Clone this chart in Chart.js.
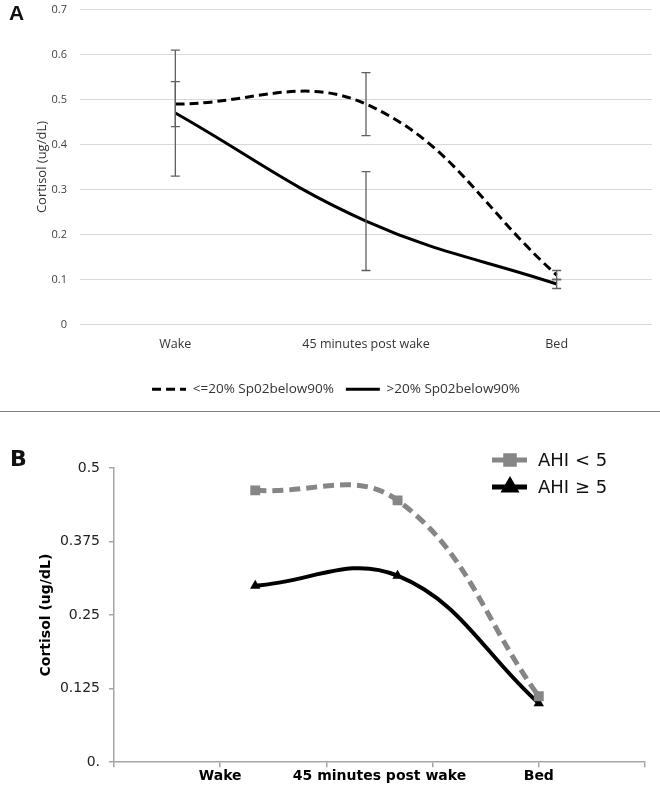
<!DOCTYPE html>
<html>
<head>
<meta charset="utf-8">
<script src="https://cdn.jsdelivr.net/npm/chart.js@4"></script>
<style>
  body { margin: 0; background: #fff; }
  #wrap { position: relative; width: 660px; height: 785px; overflow: hidden; }
  .panel { position: absolute; left: 0; }
  .tag { position: absolute; font-weight: bold; color: #111; }
  #sep { position: absolute; left: 0; top: 411px; width: 660px; height: 1px; background: #7f7f7f; }
</style>
</head>
<body>
<div id="wrap">
  <canvas id="chartA" class="panel" style="top:0" width="660" height="407"></canvas>
  <div id="sep"></div>
  <canvas id="chartB" class="panel" style="top:420px" width="660" height="367"></canvas>
  <div class="tag" style="left:9px;top:1px;font:bold 21px 'Liberation Sans'">A</div>
  <div class="tag" style="left:10px;top:446px;font:bold 22px 'DejaVu Sans'">B</div>
</div>
<script>
// panel A
var timesA = ['Wake', '45 minutes post wake', 'Bed'];
var lowDesat = [0.49, 0.49, 0.11];      // <=20% Sp02below90%
var lowDesatErr = [0.05, 0.07, 0.01];
var highDesat = [0.47, 0.23, 0.09];     // >20% Sp02below90%
var highDesatErr = [0.14, 0.11, 0.01];

// panel B
var xB = [1.33, 2.67, 4];
var ahiUnder5 = [0.462, 0.445, 0.112];
var ahiOver5 = [0.30, 0.317, 0.10];
var xTickValuesB = [1, 2.5, 4];
var xTickTextB = ['Wake', '45 minutes post wake', 'Bed'];

var errorBars = {
  id: 'errorBars',
  afterDatasetsDraw: function(chart) {
    var c = chart.ctx, x = chart.scales.x, y = chart.scales.y;
    var sets = [[lowDesat, lowDesatErr], [highDesat, highDesatErr]];
    c.save();
    c.strokeStyle = '#606060';
    c.lineWidth = 1.3;
    sets.forEach(function(s) {
      s[0].forEach(function(v, i) {
        var px = x.getPixelForValue(i);
        var top = y.getPixelForValue(v + s[1][i]);
        var bot = y.getPixelForValue(v - s[1][i]);
        c.beginPath();
        c.moveTo(px, top); c.lineTo(px, bot);
        c.moveTo(px - 4.5, top); c.lineTo(px + 4.5, top);
        c.moveTo(px - 4.5, bot); c.lineTo(px + 4.5, bot);
        c.stroke();
      });
    });
    c.restore();
  }
};

new Chart(document.getElementById('chartA'), {
  type: 'line',
  data: {
    labels: timesA,
    datasets: [{
      label: '<=20% Sp02below90%',
      data: lowDesat,
      borderColor: '#000',
      borderWidth: 3,
      borderDash: [9, 5],
      pointRadius: 0,
      tension: 0.4,
      fill: false
    }, {
      label: '>20% Sp02below90%',
      data: highDesat,
      borderColor: '#000',
      borderWidth: 3,
      pointRadius: 0,
      tension: 0.4,
      fill: false
    }]
  },
  options: {
    responsive: false,
    animation: false,
    layout: { padding: { left: 20, right: 8, top: 0, bottom: 1 } },
    plugins: {
      tooltip: { enabled: false },
      legend: {
        position: 'bottom',
        labels: {
          usePointStyle: true,
          pointStyle: 'line',
          pointStyleWidth: 34,
          padding: 12,
          color: '#333',
          font: { family: 'Open Sans', size: 13.5 },
          generateLabels: function(chart) {
            var items = Chart.defaults.plugins.legend.labels.generateLabels(chart);
            items.forEach(function(it, i) {
              var ds = chart.data.datasets[i];
              it.lineDash = ds.borderDash || [];
              it.lineWidth = ds.borderWidth;
              it.strokeStyle = ds.borderColor;
            });
            return items;
          }
        }
      }
    },
    scales: {
      x: {
        offset: true,
        grid: { display: false },
        border: { display: false },
        ticks: { color: '#333', padding: 4, font: { family: 'Open Sans', size: 12.5 } },
        afterFit: function(s) { s.height += 15; }
      },
      y: {
        min: 0, max: 0.7,
        afterFit: function(s) { s.width = 60; },
        ticks: { stepSize: 0.1, color: '#404040', padding: 3, font: { family: 'Open Sans', size: 11 } },
        grid: { color: '#d9d9d9', drawTicks: true, tickLength: 10, tickColor: 'rgba(0,0,0,0)' },
        border: { display: false },
        title: {
          display: true, text: 'Cortisol (ug/dL)', color: '#333',
          padding: { top: 14, bottom: 0 },
          font: { family: 'Open Sans', size: 13 }
        }
      }
    }
  },
  plugins: [errorBars]
});

var legendB = {
  id: 'legendB',
  afterDraw: function(chart) {
    var c = chart.ctx;
    var items = [
      { text: 'AHI < 5', color: '#868686', style: 'rect', y: 40 },
      { text: 'AHI \u2265 5', color: '#000', style: 'triangle', y: 67 }
    ];
    c.save();
    items.forEach(function(it) {
      c.strokeStyle = it.color;
      c.fillStyle = it.color;
      c.lineWidth = 5;
      c.beginPath();
      c.moveTo(492, it.y); c.lineTo(527, it.y);
      c.stroke();
      Chart.helpers.drawPoint(c, { pointStyle: it.style, radius: 6, borderWidth: 1 }, 510, it.y);
      c.fillStyle = '#111';
      c.font = '18px "DejaVu Sans"';
      c.textBaseline = 'middle';
      c.fillText(it.text, 538, it.y + 1);
    });
    c.restore();
  }
};

var axisGray = '#a6a6a6';
new Chart(document.getElementById('chartB'), {
  type: 'scatter',
  data: {
    datasets: [{
      label: 'AHI < 5',
      data: xB.map(function(x, i) { return { x: x, y: ahiUnder5[i] }; }),
      showLine: true,
      borderColor: '#868686',
      backgroundColor: '#868686',
      borderWidth: 5,
      borderDash: [11, 6],
      pointStyle: 'rect',
      pointRadius: 7,
      pointBorderWidth: 0,
      tension: 0.4
    }, {
      label: 'AHI \u2265 5',
      data: xB.map(function(x, i) { return { x: x, y: ahiOver5[i] }; }),
      showLine: true,
      borderColor: '#000',
      backgroundColor: '#000',
      borderWidth: 4,
      pointStyle: 'triangle',
      pointRadius: 6,
      pointBorderWidth: 0,
      tension: 0.4
    }]
  },
  options: {
    responsive: false,
    animation: false,
    layout: { padding: { left: 34, right: 15, top: 48, bottom: 1 } },
    plugins: { legend: { display: false }, tooltip: { enabled: false } },
    scales: {
      x: {
        type: 'linear', min: 0, max: 5,
        afterBuildTicks: function(s) {
          s.ticks = [0, 1, 2, 2.5, 3, 4, 5].map(function(v) { return { value: v }; });
        },
        ticks: {
          autoSkip: false, maxRotation: 0, padding: 1, color: '#000',
          font: { family: 'DejaVu Sans', size: 14, weight: 'bold' },
          callback: function(v) {
            var k = xTickValuesB.indexOf(v);
            return k >= 0 ? xTickTextB[k] : '';
          }
        },
        grid: {
          drawOnChartArea: false, tickLength: 5, lineWidth: 1.5,
          tickColor: function(ctx) {
            return ctx.tick && ctx.tick.value === 2.5 ? 'rgba(0,0,0,0)' : axisGray;
          }
        },
        border: { color: axisGray, width: 1.5 }
      },
      y: {
        min: 0, max: 0.5,
        afterFit: function(s) { s.width = 80; },
        ticks: {
          stepSize: 0.125, padding: 9, color: '#222',
          font: { family: 'DejaVu Sans', size: 14 },
          callback: function(v) { return v === 0 ? '0.' : String(v); }
        },
        grid: { drawOnChartArea: false, tickLength: 5, lineWidth: 1.5, tickColor: axisGray },
        border: { color: axisGray, width: 1.5 },
        title: {
          display: true, text: 'Cortisol (ug/dL)', color: '#000',
          padding: { top: 4, bottom: 4 },
          font: { family: 'DejaVu Sans', size: 14, weight: 'bold' }
        }
      }
    }
  },
  plugins: [legendB]
});
</script>
</body>
</html>
